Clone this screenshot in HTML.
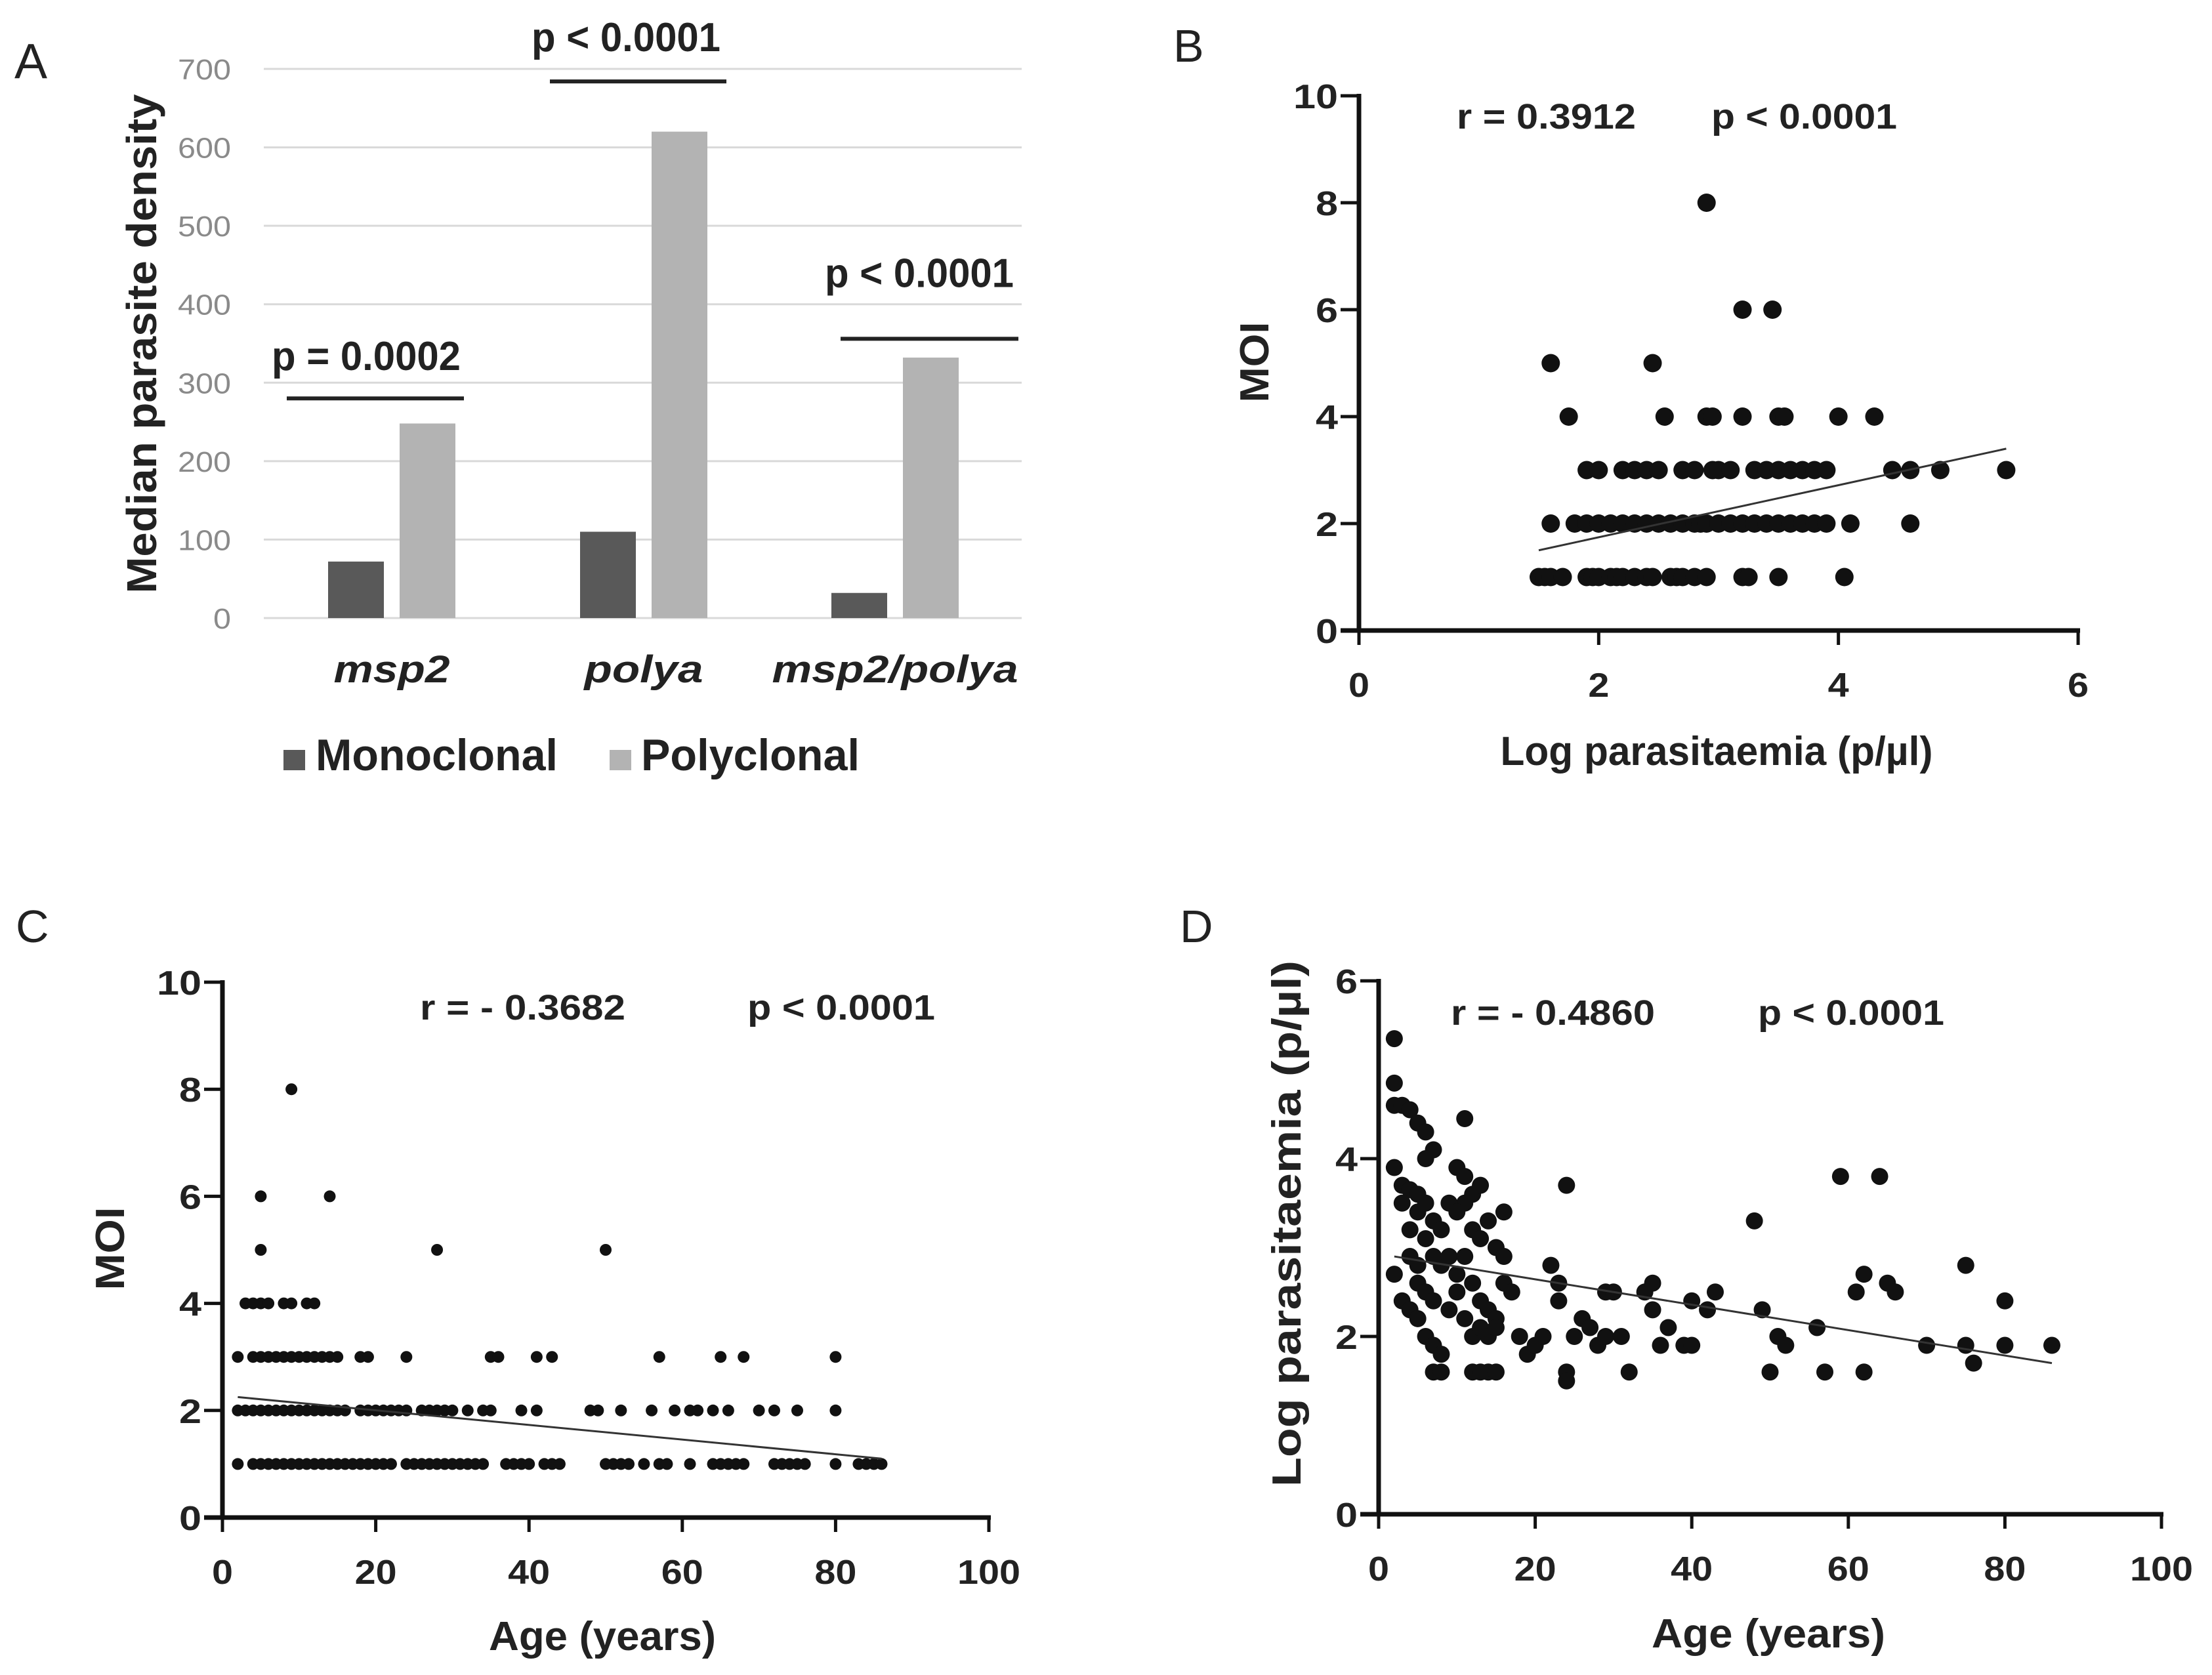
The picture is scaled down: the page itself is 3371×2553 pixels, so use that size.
<!DOCTYPE html>
<html><head><meta charset="utf-8"><style>
html,body{margin:0;padding:0;background:#fff;overflow:hidden}
svg{display:block}
text{font-family:"Liberation Sans",Arial,sans-serif}
</style></head><body>
<svg id="fig" width="3371" height="2553" viewBox="0 0 3371 2553" xmlns="http://www.w3.org/2000/svg">
<rect width="3371" height="2553" fill="#fff"/>
<g id="pa"></g>
<g id="pb"></g>
<g id="pc"></g>
<g id="pd"></g>
</svg>
<script>
// ---- Panel A data ----
const aCategories = ["msp2","polya","msp2/polya"];
const aMono = [72,110,32];
const aPoly = [248,620,332];
const aTicks = [0,100,200,300,400,500,600,700];
const aPvals = ["p = 0.0002","p < 0.0001","p < 0.0001"];
const aSigY = [280,684,356];
// ---- Panel B data (Log parasitaemia, MOI) ----
const bX = [1.5,1.55,1.6,1.7,1.9,1.95,2.0,2.1,2.15,2.2,2.3,2.4,2.45,2.6,2.65,2.7,2.8,2.9,3.2,3.25,3.5,4.05,
 1.6,1.8,1.9,2.0,2.1,2.2,2.3,2.4,2.5,2.6,2.7,2.8,2.85,2.9,3.0,3.1,3.2,3.3,3.4,3.5,3.6,3.7,3.8,3.9,4.1,4.6,
 1.9,2.0,2.2,2.3,2.4,2.5,2.7,2.8,2.95,3.0,3.1,3.3,3.4,3.5,3.6,3.7,3.8,3.9,4.45,4.6,4.85,5.4,
 1.75,2.55,2.9,2.95,3.2,3.5,3.55,4.0,4.3,
 1.6,2.45,3.2,3.45,2.9];
const bY = [1,1,1,1,1,1,1,1,1,1,1,1,1,1,1,1,1,1,1,1,1,1,
 2,2,2,2,2,2,2,2,2,2,2,2,2,2,2,2,2,2,2,2,2,2,2,2,2,2,
 3,3,3,3,3,3,3,3,3,3,3,3,3,3,3,3,3,3,3,3,3,3,
 4,4,4,4,4,4,4,4,4,
 5,5,6,6,8];
const bTrend = [[1.5,1.5],[5.4,3.4]];
// ---- Panel C data (Age, MOI) ----
const cX = [2,4,5,6,7,8,9,10,11,12,13,14,15,16,17,18,19,20,21,22,24,25,26,27,28,29,30,31,32,33,34,37,38,39,40,42,43,44,50,51,52,53,55,57,58,61,64,65,66,67,68,72,73,74,75,76,80,83,84,85,86,
 2,3,4,5,6,7,8,9,10,11,12,13,14,15,16,18,19,20,21,22,23,24,26,27,28,29,30,32,34,35,39,41,48,49,52,56,59,61,62,64,66,70,72,75,80,
 2,4,5,6,7,8,9,10,11,12,13,14,15,18,19,24,35,36,41,43,57,65,68,80,
 3,4,5,6,8,9,11,12,
 5,28,50,5,14,9];
const cY = [1,1,1,1,1,1,1,1,1,1,1,1,1,1,1,1,1,1,1,1,1,1,1,1,1,1,1,1,1,1,1,1,1,1,1,1,1,1,1,1,1,1,1,1,1,1,1,1,1,1,1,1,1,1,1,1,1,1,1,1,1,
 2,2,2,2,2,2,2,2,2,2,2,2,2,2,2,2,2,2,2,2,2,2,2,2,2,2,2,2,2,2,2,2,2,2,2,2,2,2,2,2,2,2,2,2,2,
 3,3,3,3,3,3,3,3,3,3,3,3,3,3,3,3,3,3,3,3,3,3,3,3,
 4,4,4,4,4,4,4,4,
 5,5,5,6,6,8];
const cTrend = [[2,2.25],[86,1.1]];
// ---- Panel D data (Age, Log parasitaemia) ----
const dX = [2,2,2,3,4,5,6,7,6,11,2,3,4,5,3,5,6,7,4,6,8,10,11,12,13,11,9,10,12,13,14,15,16,16,4,5,7,8,9,10,11,2,3,4,5,5,6,7,9,10,11,12,13,14,15,16,17,12,13,14,15,6,7,8,7,8,12,13,14,15,18,19,20,21,22,23,23,24,24,24,25,26,27,28,29,29,30,31,32,34,35,35,36,37,39,40,40,42,43,48,49,50,51,52,56,57,59,61,62,62,64,65,66,70,75,75,76,80,80,86];
const dY = [5.35,4.85,4.6,4.6,4.55,4.4,4.3,4.1,4.0,4.45,3.9,3.7,3.65,3.6,3.5,3.4,3.5,3.3,3.2,3.1,3.2,3.9,3.8,3.6,3.7,3.5,3.5,3.4,3.2,3.1,3.3,3.0,2.9,3.4,2.9,2.8,2.9,2.8,2.9,2.7,2.9,2.7,2.4,2.3,2.2,2.6,2.5,2.4,2.3,2.5,2.2,2.6,2.4,2.3,2.2,2.6,2.5,2.0,2.1,2.0,2.1,2.0,1.9,1.8,1.6,1.6,1.6,1.6,1.6,1.6,2.0,1.8,1.9,2.0,2.8,2.4,2.6,3.7,1.6,1.5,2.0,2.2,2.1,1.9,2.0,2.5,2.5,2.0,1.6,2.5,2.6,2.3,1.9,2.1,1.9,1.9,2.4,2.3,2.5,3.3,2.3,1.6,2.0,1.9,2.1,1.6,3.8,2.5,2.7,1.6,3.8,2.6,2.5,1.9,2.8,1.9,1.7,2.4,1.9,1.9];
const dTrend = [[2,2.9],[86,1.7]];

const NS="http://www.w3.org/2000/svg";
function mk(parent,tag,attrs,txt){const e=document.createElementNS(NS,tag);for(const k in attrs)e.setAttribute(k,attrs[k]);if(txt!==undefined)e.textContent=txt;parent.appendChild(e);return e;}

// ===== Panel A =====
(function(){
 const g=document.getElementById('pa');
 const L=402,R=1557,B=942,T=105,ymax=700;
 const sy=v=>B-(v/ymax)*(B-T);
 const centers=[597,981,1364];
 let t=mk(g,'text',{x:22,y:119,'font-size':75,fill:'#222'},'A');
 
 
 aTicks.forEach(v=>{
  const l=mk(g,'line',{x1:L,x2:R,y1:sy(v),y2:sy(v),stroke:'#d9d9d9','stroke-width':3});
  
  
  const tt=mk(g,'text',{x:352,y:sy(v)+16,'font-size':44,fill:'#8a8a8a','text-anchor':'end',textLength:String(v).length*27,lengthAdjust:'spacingAndGlyphs'},String(v));
  
  
 });
 const bw=85;
 const sigOff=[43,46,79];
 aCategories.forEach((c,i)=>{
  const x=centers[i];
  const r1=mk(g,'rect',{x:x-bw-12,y:sy(aMono[i]),width:bw,height:B-sy(aMono[i]),fill:'#595959'});
  
  
  const r2=mk(g,'rect',{x:x+12,y:sy(aPoly[i]),width:bw,height:B-sy(aPoly[i]),fill:'#b3b3b3'});
  
  
  const lab=mk(g,'text',{x:x,y:1040,'font-size':58,'font-weight':'bold','font-style':'italic','text-anchor':'middle',fill:'#222',textLength:[177,181,375][i],lengthAdjust:'spacingAndGlyphs'},c);
  
  
  const ly=sy(aSigY[i]);
  const sl=mk(g,'line',{x1:[437,838,1281][i],x2:[707,1107,1552][i],y1:ly,y2:ly,stroke:'#222','stroke-width':6});
  
  
  const pt=mk(g,'text',{x:[558,954,1401][i],y:ly-sigOff[i],'font-size':62,'font-weight':'bold','text-anchor':'middle',fill:'#222',textLength:288,lengthAdjust:'spacingAndGlyphs'},aPvals[i]);
  
  
 });
 const yt=mk(g,'text',{x:0,y:0,'font-size':64,'font-weight':'bold','text-anchor':'middle',fill:'#222',transform:'translate(238,524) rotate(-90)',textLength:761,lengthAdjust:'spacingAndGlyphs'},'Median parasite density');
 
 
 const s1=mk(g,'rect',{x:432,y:1143,width:33,height:31,fill:'#595959'});
 
 
 const l1=mk(g,'text',{x:481,y:1174,'font-size':68,'font-weight':'bold',fill:'#222',textLength:369,lengthAdjust:'spacingAndGlyphs'},'Monoclonal');
 
 
 const s2=mk(g,'rect',{x:929,y:1143,width:33,height:31,fill:'#b3b3b3'});
 
 
 const l2=mk(g,'text',{x:977,y:1174,'font-size':68,'font-weight':'bold',fill:'#222',textLength:333,lengthAdjust:'spacingAndGlyphs'},'Polyclonal');
 
 
})();

// ===== Scatter panels =====
function scatter(o){
 const g=document.getElementById(o.id);
 const sx=v=>o.L+(v-o.xmin)/(o.xmax-o.xmin)*(o.R-o.L);
 const sy=v=>o.B-(v-o.ymin)/(o.ymax-o.ymin)*(o.B-o.T);
 const pl=mk(g,'text',{x:o.lab[1],y:o.lab[2],'font-size':70,fill:'#222'},o.lab[0]);
 
 
 const ya=mk(g,'line',{x1:o.L,x2:o.L,y1:o.T-3,y2:o.B+3,stroke:'#111','stroke-width':7});
 
 
 const xa=mk(g,'line',{x1:o.L-28,x2:o.R+3,y1:o.B,y2:o.B,stroke:'#111','stroke-width':7});
 
 
 o.yt.forEach(v=>{
  const tk=mk(g,'line',{x1:o.L-28,x2:o.L,y1:sy(v),y2:sy(v),stroke:'#111','stroke-width':5});
  
  
  const tl=mk(g,'text',{x:o.L-32,y:sy(v)+19,'font-size':52,'font-weight':'bold','text-anchor':'end',fill:'#222',textLength:String(v).length*34,lengthAdjust:'spacingAndGlyphs'},String(v));
  
  
 });
 o.xt.forEach(v=>{
  const tk=mk(g,'line',{x1:sx(v),x2:sx(v),y1:o.B,y2:o.B+22,stroke:'#111','stroke-width':5});
  
  
  const tl=mk(g,'text',{x:sx(v),y:o.B+101,'font-size':52,'font-weight':'bold','text-anchor':'middle',fill:'#222',textLength:String(v).length*32,lengthAdjust:'spacingAndGlyphs'},String(v));
  
  
 });
 o.xs.forEach((v,i)=>{
  const c=mk(g,'circle',{cx:sx(v),cy:sy(o.ys[i]),r:o.r,fill:'#111'});
  
  
 });
 const tr=mk(g,'line',{x1:sx(o.tr[0][0]),y1:sy(o.tr[0][1]),x2:sx(o.tr[1][0]),y2:sy(o.tr[1][1]),stroke:'#333','stroke-width':3});
 
 
 const rt=mk(g,'text',{x:o.rt[1],y:o.rt[2],'font-size':54,'font-weight':'bold',fill:'#222',textLength:o.rt[3],lengthAdjust:'spacingAndGlyphs'},o.rt[0]);
 
 
 const pt=mk(g,'text',{x:o.pt[0],y:o.rt[2],'font-size':54,'font-weight':'bold',fill:'#222',textLength:o.pt[1],lengthAdjust:'spacingAndGlyphs'},'p < 0.0001');
 
 
 const xt=mk(g,'text',{x:o.xtit[1],y:o.xtit[2],'font-size':62,'font-weight':'bold','text-anchor':'middle',fill:'#222',textLength:o.xtit[3],lengthAdjust:'spacingAndGlyphs'},o.xtit[0]);
 
 
 const yt=mk(g,'text',{x:0,y:0,'font-size':62,'font-weight':'bold','text-anchor':'middle',fill:'#222',transform:'translate('+o.ytit[1]+','+o.ytit[2]+') rotate(-90)',textLength:o.ytit[3],lengthAdjust:'spacingAndGlyphs'},o.ytit[0]);
 
 
}
scatter({id:'pb',L:2071,R:3167,B:961,T:146,xmin:0,xmax:6,ymin:0,ymax:10,xt:[0,2,4,6],yt:[0,2,4,6,8,10],xs:bX,ys:bY,r:14,tr:bTrend,
 lab:['B',1788,94],rt:['r = 0.3912',2220,196,273],pt:[2608,283],xtit:['Log parasitaemia (p/µl)',2616,1166,659],ytit:['MOI',1933,552,123]});
scatter({id:'pc',L:339,R:1507,B:2313,T:1497,xmin:0,xmax:100,ymin:0,ymax:10,xt:[0,20,40,60,80,100],yt:[0,2,4,6,8,10],xs:cX,ys:cY,r:9,tr:cTrend,
 lab:['C',24,1436],rt:['r = - 0.3682',640,1554,313],pt:[1139,286],xtit:['Age (years)',918,2515,346],ytit:['MOI',189,1903,127]});
scatter({id:'pd',L:2101,R:3294,B:2308,T:1495,xmin:0,xmax:100,ymin:0,ymax:6,xt:[0,20,40,60,80,100],yt:[0,2,4,6],xs:dX,ys:dY,r:13,tr:dTrend,
 lab:['D',1798,1436],rt:['r = - 0.4860',2211,1562,311],pt:[2679,284],xtit:['Age (years)',2695,2511,356],ytit:['Log parasitaemia (p/µl)',1982,1865,802]});
</script>
</body></html>
